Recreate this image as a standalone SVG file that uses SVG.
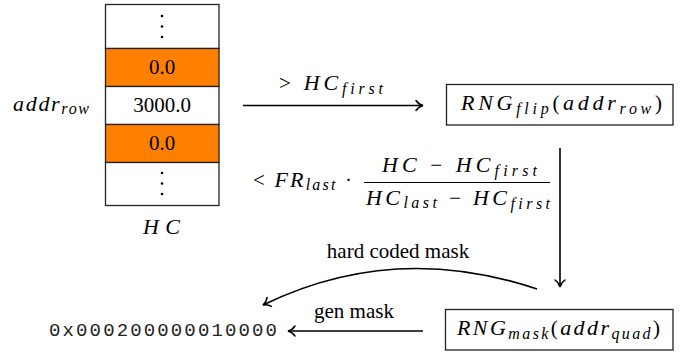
<svg xmlns="http://www.w3.org/2000/svg" width="689" height="356" viewBox="0 0 689 356">
<defs>
<style>
.m{font-family:"Liberation Serif",serif;font-style:italic;font-size:22px;fill:#000}
.s{font-size:16px}
.u{font-family:"Liberation Serif",serif;font-style:normal;font-size:21px;fill:#000}
.cell{stroke:#222;stroke-width:1.3}
.conn{fill:none;stroke:#000;stroke-width:1.6}
.box{fill:#fff;stroke:#222;stroke-width:1.3}
</style>
<marker id="ah" viewBox="-9 -6 11 12" refX="0" refY="0" markerWidth="11" markerHeight="12" markerUnits="userSpaceOnUse" orient="auto">
<path d="M-7,-5 C-5,-2 -2,-0.5 0,0 C-2,0.5 -5,2 -7,5" fill="none" stroke="#000" stroke-width="1.5" stroke-linecap="round"/>
</marker>
</defs>
<rect width="689" height="356" fill="#fff"/>

<g id="table">
<rect class="cell" x="105.5" y="4.5" width="113.5" height="44" fill="#fff"/>
<rect class="cell" x="105.5" y="48.5" width="113.5" height="38" fill="#ff8000"/>
<rect class="cell" x="105.5" y="86.5" width="113.5" height="38" fill="#fff"/>
<rect class="cell" x="105.5" y="124.5" width="113.5" height="38" fill="#ff8000"/>
<rect class="cell" x="105.5" y="162.5" width="113.5" height="43" fill="#fff"/>
<circle cx="162" cy="16" r="1.3"/><circle cx="162" cy="26.5" r="1.3"/><circle cx="162" cy="37" r="1.3"/>
<circle cx="162" cy="173" r="1.3"/><circle cx="162" cy="183.5" r="1.3"/><circle cx="162" cy="194" r="1.3"/>
<text class="u" x="162" y="74" text-anchor="middle">0.0</text>
<text class="u" x="162" y="112" text-anchor="middle">3000.0</text>
<text class="u" x="162" y="150" text-anchor="middle">0.0</text>
</g>

<g id="addr-row">
<text class="m" x="13" y="111" textLength="76" lengthAdjust="spacing">addr<tspan class="s" dy="3">row</tspan></text>
</g>

<g id="hc-label">
<text class="m" x="143" y="234" textLength="37" lengthAdjust="spacing">HC</text>
</g>

<g id="rng-flip">
<rect class="box" x="446.5" y="84.5" width="226.5" height="40.5"/>
<text class="m" x="461" y="110" textLength="201" lengthAdjust="spacing">RNG<tspan class="s" dy="4">flip</tspan><tspan class="u" dy="-4">(</tspan>addr<tspan class="s" dy="4">row</tspan><tspan class="u" dy="-4">)</tspan></text>
</g>

<g id="rng-mask">
<rect class="box" x="445.5" y="309.5" width="227.5" height="40.5"/>
<text class="m" x="457" y="335" textLength="203" lengthAdjust="spacing">RNG<tspan class="s" dy="4">mask</tspan><tspan class="u" dy="-4">(</tspan>addr<tspan class="s" dy="4">quad</tspan><tspan class="u" dy="-4">)</tspan></text>
</g>

<g id="mask-value">
<text x="49" y="336" font-family="'Liberation Mono',monospace" font-size="19" fill="#222" textLength="228" lengthAdjust="spacing">0x000200000010000</text>
</g>

<g id="connectors">
<line class="conn" x1="243" y1="105.5" x2="423" y2="105.5" marker-end="url(#ah)"/>
<line class="conn" x1="560" y1="148" x2="560" y2="287" marker-end="url(#ah)"/>
<path class="conn" d="M537,289 Q394,241 263,305" marker-end="url(#ah)"/>
<line class="conn" x1="423" y1="331" x2="288" y2="331" marker-end="url(#ah)"/>
</g>

<g id="labels">
<text class="m" x="279" y="90" textLength="104" lengthAdjust="spacing"><tspan class="u">&gt; </tspan>HC<tspan class="s" dy="4">first</tspan></text>
<text class="m" x="253" y="187" textLength="99" lengthAdjust="spacing"><tspan class="u">&lt; </tspan>FR<tspan class="s" dy="3">last</tspan><tspan class="u" dy="-3"> ·</tspan></text>
<text class="m" x="382" y="172" textLength="155" lengthAdjust="spacing">HC<tspan class="u"> − </tspan>HC<tspan class="s" dy="4">first</tspan></text>
<line x1="364" y1="182.5" x2="550" y2="182.5" stroke="#000" stroke-width="1.2"/>
<text class="m" x="366" y="205" textLength="184" lengthAdjust="spacing">HC<tspan class="s" dy="3">last</tspan><tspan class="u" dy="-3"> − </tspan>HC<tspan class="s" dy="4">first</tspan></text>
<text class="u" x="398" y="258" text-anchor="middle">hard coded mask</text>
<text class="u" x="354" y="318" text-anchor="middle">gen mask</text>
</g>
</svg>
